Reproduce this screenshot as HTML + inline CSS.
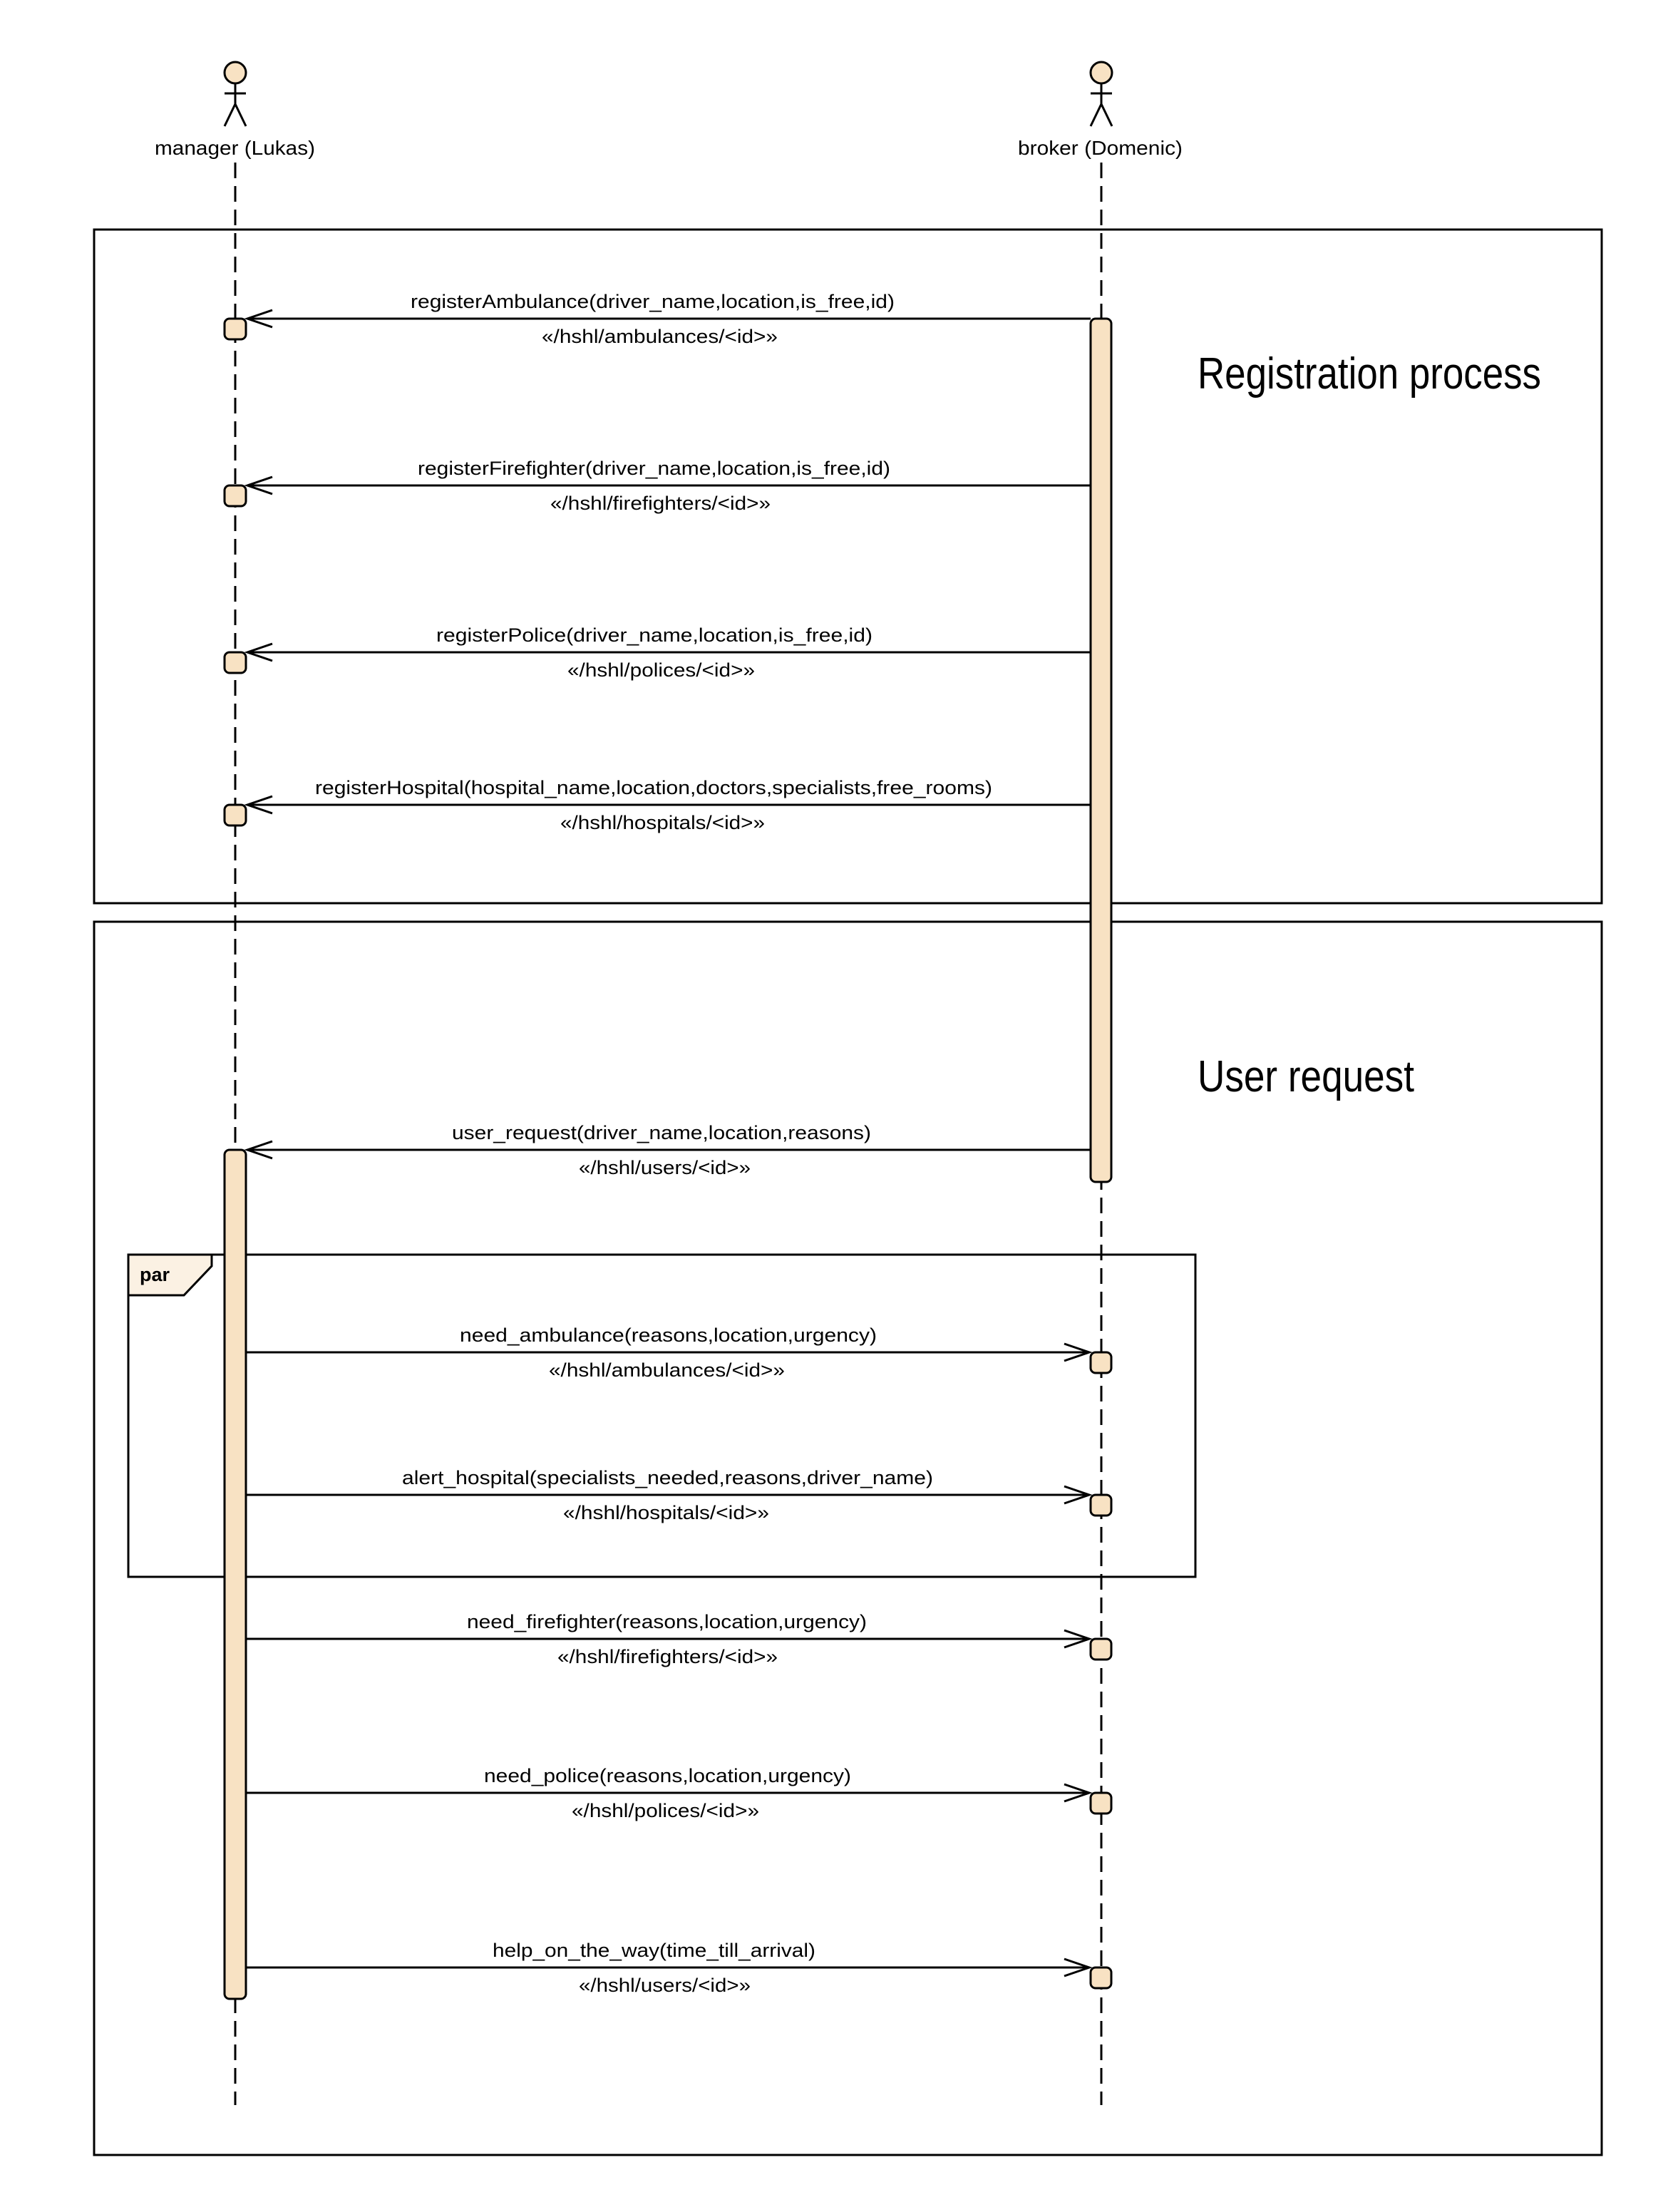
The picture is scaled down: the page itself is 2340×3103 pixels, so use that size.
<!DOCTYPE html>
<html><head><meta charset="utf-8"><style>html,body{margin:0;padding:0;background:#fff}svg{display:block}</style></head>
<body>
<svg width="2340" height="3103" viewBox="0 0 2340 3103" xmlns="http://www.w3.org/2000/svg" font-family="Liberation Sans, Arial, sans-serif">
<rect width="2340" height="3103" fill="#fff"/>
<!-- frames -->
<rect x="132" y="322" width="2115" height="945" fill="none" stroke="#000" stroke-width="3"/>
<rect x="132" y="1293" width="2115" height="1730" fill="none" stroke="#000" stroke-width="3"/>
<text x="1680" y="545" font-size="62" textLength="482" lengthAdjust="spacingAndGlyphs">Registration process</text>
<text x="1680" y="1531" font-size="62" textLength="304" lengthAdjust="spacingAndGlyphs">User request</text>
<!-- lifelines -->
<g stroke="#000" stroke-width="3" stroke-dasharray="22 11">
<line x1="330" y1="228" x2="330" y2="2953"/>
<line x1="1545" y1="228" x2="1545" y2="2953"/>
</g>
<!-- actors -->
<g stroke="#000" stroke-width="3" fill="none">
<circle cx="330" cy="102" r="15" fill="#f8e2c3"/>
<line x1="330" y1="117" x2="330" y2="146"/><line x1="315" y1="131" x2="345" y2="131"/>
<polyline points="315,177 330,146 345,177"/>
<circle cx="1545" cy="102" r="15" fill="#f8e2c3"/>
<line x1="1545" y1="117" x2="1545" y2="146"/><line x1="1530" y1="131" x2="1560" y2="131"/>
<polyline points="1530,177 1545,146 1560,177"/>
</g>
<text x="217" y="217" font-size="28" textLength="225" lengthAdjust="spacingAndGlyphs">manager (Lukas)</text>
<text x="1428" y="217" font-size="28" textLength="231" lengthAdjust="spacingAndGlyphs">broker (Domenic)</text>
<!-- par frame -->
<rect x="180" y="1760" width="1497" height="452" fill="none" stroke="#000" stroke-width="3"/>
<polygon points="180,1760 297,1760 297,1776 258,1817 180,1817" fill="#fbf1e3" stroke="#000" stroke-width="3"/>
<text x="196" y="1797" font-size="27" font-weight="bold">par</text>
<!-- activation bars -->
<g fill="#f8e2c3" stroke="#000" stroke-width="3">
<rect x="1530" y="447" width="29" height="1211" rx="7"/>
<rect x="315" y="1613" width="30" height="1191" rx="7"/>
<rect x="315" y="447" width="30" height="29" rx="7"/>
<rect x="315" y="681" width="30" height="29" rx="7"/>
<rect x="315" y="915" width="30" height="29" rx="7"/>
<rect x="315" y="1129" width="30" height="29" rx="7"/>
<rect x="1530" y="1897" width="29" height="29" rx="7"/>
<rect x="1530" y="2097" width="29" height="29" rx="7"/>
<rect x="1530" y="2299" width="29" height="29" rx="7"/>
<rect x="1530" y="2515" width="29" height="29" rx="7"/>
<rect x="1530" y="2760" width="29" height="29" rx="7"/>
</g>
<!-- messages left -->
<g stroke="#000" stroke-width="3" fill="none">
<line x1="347" y1="447" x2="1530" y2="447"/><polyline points="382,435 347,447 382,459"/>
<line x1="347" y1="681" x2="1530" y2="681"/><polyline points="382,669 347,681 382,693"/>
<line x1="347" y1="915" x2="1530" y2="915"/><polyline points="382,903 347,915 382,927"/>
<line x1="347" y1="1129" x2="1530" y2="1129"/><polyline points="382,1117 347,1129 382,1141"/>
<line x1="347" y1="1613" x2="1530" y2="1613"/><polyline points="382,1601 347,1613 382,1625"/>
<line x1="345" y1="1897" x2="1528" y2="1897"/><polyline points="1493,1885 1528,1897 1493,1909"/>
<line x1="345" y1="2097" x2="1528" y2="2097"/><polyline points="1493,2085 1528,2097 1493,2109"/>
<line x1="345" y1="2299" x2="1528" y2="2299"/><polyline points="1493,2287 1528,2299 1493,2311"/>
<line x1="345" y1="2515" x2="1528" y2="2515"/><polyline points="1493,2503 1528,2515 1493,2527"/>
<line x1="345" y1="2760" x2="1528" y2="2760"/><polyline points="1493,2748 1528,2760 1493,2772"/>
</g>
<g font-size="27" lengthAdjust="spacingAndGlyphs">
<text x="576" y="432" textLength="679" lengthAdjust="spacingAndGlyphs">registerAmbulance(driver_name,location,is_free,id)</text>
<text x="760" y="481" textLength="331" lengthAdjust="spacingAndGlyphs">«/hshl/ambulances/&lt;id&gt;»</text>
<text x="586" y="666" textLength="663" lengthAdjust="spacingAndGlyphs">registerFirefighter(driver_name,location,is_free,id)</text>
<text x="772" y="715" textLength="309" lengthAdjust="spacingAndGlyphs">«/hshl/firefighters/&lt;id&gt;»</text>
<text x="612" y="900" textLength="612" lengthAdjust="spacingAndGlyphs">registerPolice(driver_name,location,is_free,id)</text>
<text x="796" y="949" textLength="263" lengthAdjust="spacingAndGlyphs">«/hshl/polices/&lt;id&gt;»</text>
<text x="442" y="1114" textLength="950" lengthAdjust="spacingAndGlyphs">registerHospital(hospital_name,location,doctors,specialists,free_rooms)</text>
<text x="786" y="1163" textLength="287" lengthAdjust="spacingAndGlyphs">«/hshl/hospitals/&lt;id&gt;»</text>
<text x="634" y="1598" textLength="588" lengthAdjust="spacingAndGlyphs">user_request(driver_name,location,reasons)</text>
<text x="812" y="1647" textLength="241" lengthAdjust="spacingAndGlyphs">«/hshl/users/&lt;id&gt;»</text>
<text x="645" y="1882" textLength="585" lengthAdjust="spacingAndGlyphs">need_ambulance(reasons,location,urgency)</text>
<text x="770" y="1931" textLength="331" lengthAdjust="spacingAndGlyphs">«/hshl/ambulances/&lt;id&gt;»</text>
<text x="564" y="2082" textLength="745" lengthAdjust="spacingAndGlyphs">alert_hospital(specialists_needed,reasons,driver_name)</text>
<text x="790" y="2131" textLength="289" lengthAdjust="spacingAndGlyphs">«/hshl/hospitals/&lt;id&gt;»</text>
<text x="655" y="2284" textLength="561" lengthAdjust="spacingAndGlyphs">need_firefighter(reasons,location,urgency)</text>
<text x="782" y="2333" textLength="309" lengthAdjust="spacingAndGlyphs">«/hshl/firefighters/&lt;id&gt;»</text>
<text x="679" y="2500" textLength="515" lengthAdjust="spacingAndGlyphs">need_police(reasons,location,urgency)</text>
<text x="802" y="2549" textLength="263" lengthAdjust="spacingAndGlyphs">«/hshl/polices/&lt;id&gt;»</text>
<text x="691" y="2745" textLength="453" lengthAdjust="spacingAndGlyphs">help_on_the_way(time_till_arrival)</text>
<text x="812" y="2794" textLength="241" lengthAdjust="spacingAndGlyphs">«/hshl/users/&lt;id&gt;»</text>
</g>
</svg>
</body></html>
